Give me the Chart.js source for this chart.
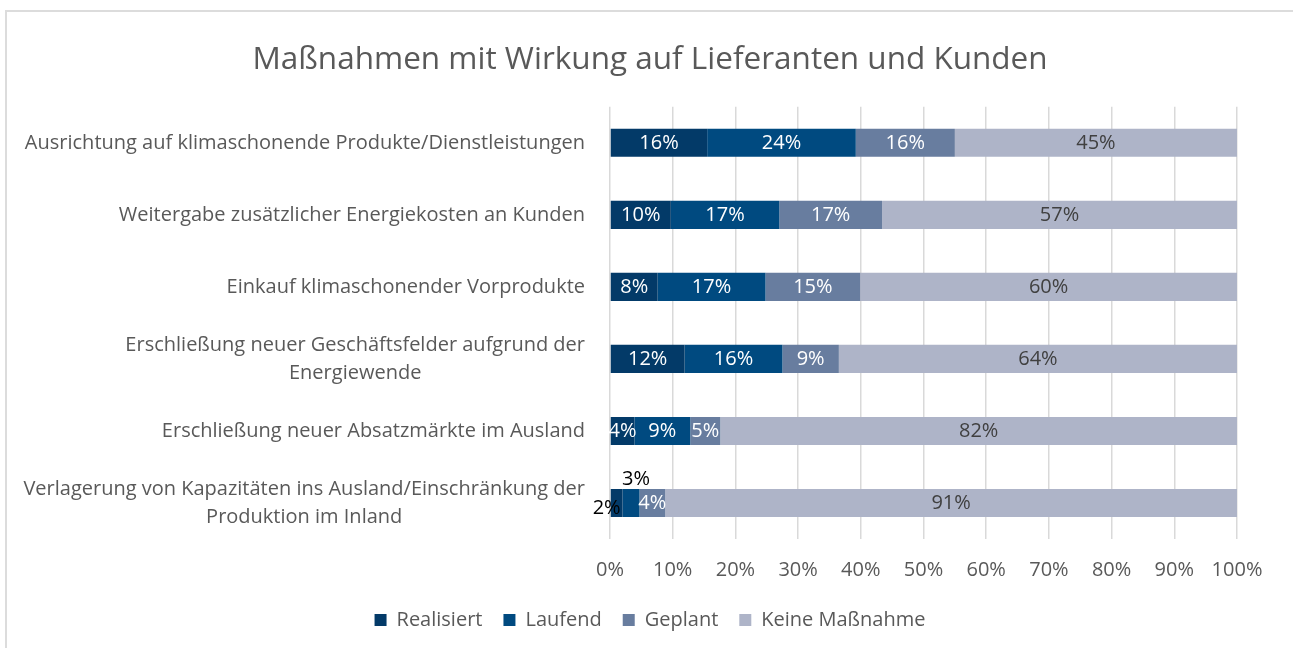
<!DOCTYPE html>
<html><head><meta charset="utf-8">
<script src="https://cdn.jsdelivr.net/npm/chart.js@4.4.1/dist/chart.umd.min.js"></script>
<style>
html,body{margin:0;padding:0;background:#fff;overflow:hidden}
#frame{position:absolute;left:5px;top:10px;width:1300px;height:700px;border-left:2px solid #dcdcdc;border-top:2px solid #dcdcdc;box-sizing:border-box}
#wrap{position:absolute;left:0;top:0;width:1293px;height:648px}
</style></head><body>
<div id="frame"></div>
<div id="wrap"><canvas id="c" width="1293" height="648"></canvas></div>
<script>
const categories = [
  ["Ausrichtung auf klimaschonende Produkte/Dienstleistungen"],
  ["Weitergabe zusätzlicher Energiekosten an Kunden"],
  ["Einkauf klimaschonender Vorprodukte"],
  ["Erschließung neuer Geschäftsfelder aufgrund der", "Energiewende"],
  ["Erschließung neuer Absatzmärkte im Ausland"],
  ["Verlagerung von Kapazitäten ins Ausland/Einschränkung der", "Produktion im Inland"]
];
const seriesNames = ["Realisiert", "Laufend", "Geplant", "Keine Maßnahme"];
const realisiert = [15.5, 9.7, 7.6, 11.9, 3.9, 2.0];
const laufend    = [23.7, 17.3, 17.2, 15.6, 8.9, 2.7];
const geplant    = [15.8, 16.4, 15.1, 9.0, 4.8, 4.1];
const keine      = [45.0, 56.6, 60.1, 63.5, 82.4, 91.2];
const realisiertLabels = ["16%", "10%", "8%", "12%", "4%", "2%"];
const laufendLabels    = ["24%", "17%", "17%", "16%", "9%", "3%"];
const geplantLabels    = ["16%", "17%", "15%", "9%", "5%", "4%"];
const keineLabels      = ["45%", "57%", "60%", "64%", "82%", "91%"];
const xTickValues = [0, 10, 20, 30, 40, 50, 60, 70, 80, 90, 100];

const FONT = '"Open Sans", "DejaVu Sans", sans-serif';
const TEXT = '#595959';
const colors = ['#033a68', '#004a80', '#687d9f', '#aeb4c8'];
const valueLabels = [realisiertLabels, laufendLabels, geplantLabels, keineLabels];
const valueColors = ['#ffffff', '#ffffff', '#ffffff', '#404040'];

const labelPlugin = {
  id: 'valueLabels',
  afterDatasetsDraw(chart) {
    const ctx = chart.ctx;
    ctx.save();
    ctx.font = '20px ' + FONT;
    ctx.textAlign = 'center';
    ctx.textBaseline = 'middle';
    chart.data.datasets.forEach((ds, di) => {
      const meta = chart.getDatasetMeta(di);
      meta.data.forEach((bar, i) => {
        const txt = valueLabels[di][i];
        const w = Math.abs(bar.x - bar.base);
        const cx = (bar.x + bar.base) / 2;
        const tw = ctx.measureText(txt).width;
        let x = cx, y = bar.y, color = valueColors[di];
        if (tw > w + 6) {
          color = '#000000';
          if (di === 0) { x = cx - 10; y = bar.y + 5; }
          else { x = cx + 5; y = bar.y - 24; }
        }
        ctx.fillStyle = color;
        ctx.fillText(txt, x, y);
      });
    });
    ctx.restore();
  }
};

const catLabelPlugin = {
  id: 'catLabels',
  afterDraw(chart) {
    const ctx = chart.ctx;
    const yScale = chart.scales.y;
    const right = chart.chartArea.left - 25;
    ctx.save();
    ctx.font = '20px ' + FONT;
    ctx.fillStyle = TEXT;
    ctx.textBaseline = 'middle';
    ctx.textAlign = 'center';
    const lh = 28;
    categories.forEach((lines, i) => {
      const yc = yScale.getPixelForValue(i);
      const widths = lines.map(l => ctx.measureText(l).width);
      const maxW = Math.max(...widths);
      const center = right - maxW / 2;
      lines.forEach((l, k) => {
        const y = yc + (k - (lines.length - 1) / 2) * lh;
        ctx.fillText(l, center, y);
      });
    });
    ctx.restore();
  }
};

const data = {
  labels: categories.map(c => c.join(' ')),
  datasets: [
    { label: seriesNames[0], data: realisiert, backgroundColor: colors[0] },
    { label: seriesNames[1], data: laufend, backgroundColor: colors[1] },
    { label: seriesNames[2], data: geplant, backgroundColor: colors[2] },
    { label: seriesNames[3], data: keine, backgroundColor: colors[3] }
  ]
};

new Chart(document.getElementById('c'), {
  type: 'bar',
  data,
  plugins: [labelPlugin, catLabelPlugin],
  options: {
    indexAxis: 'y',
    responsive: false,
    animation: false,
    devicePixelRatio: 1,
    barPercentage: 0.39,
    categoryPercentage: 1,
    layout: { padding: { left: 63, right: 56, top: 0, bottom: 8 } },
    plugins: {
      title: {
        display: true,
        text: 'Maßnahmen mit Wirkung auf Lieferanten und Kunden',
        color: TEXT,
        font: { family: FONT, size: 31.5, weight: 'normal' },
        padding: { top: 41, bottom: 28 }
      },
      legend: {
        position: 'bottom',
        labels: {
          color: TEXT,
          font: { family: FONT, size: 20 },
          boxWidth: 12, boxHeight: 12,
          padding: 21
        }
      },
      tooltip: { enabled: false }
    },
    scales: {
      x: {
        stacked: true,
        min: 0, max: 100,
        afterBuildTicks(scale) { scale.ticks = xTickValues.map(v => ({ value: v })); },
        afterFit(scale) { scale.height = 50; },
        ticks: {
          color: TEXT,
          font: { family: FONT, size: 20 },
          padding: 19,
          maxRotation: 0,
          callback: v => v + '%'
        },
        grid: { color: '#d9d9d9', lineWidth: 1.5, drawTicks: false },
        border: { display: false }
      },
      y: {
        stacked: true,
        afterFit(scale) { scale.width = 547; },
        ticks: { display: false },
        grid: { display: false },
        border: { display: false }
      }
    }
  }
});
</script>
</body></html>
